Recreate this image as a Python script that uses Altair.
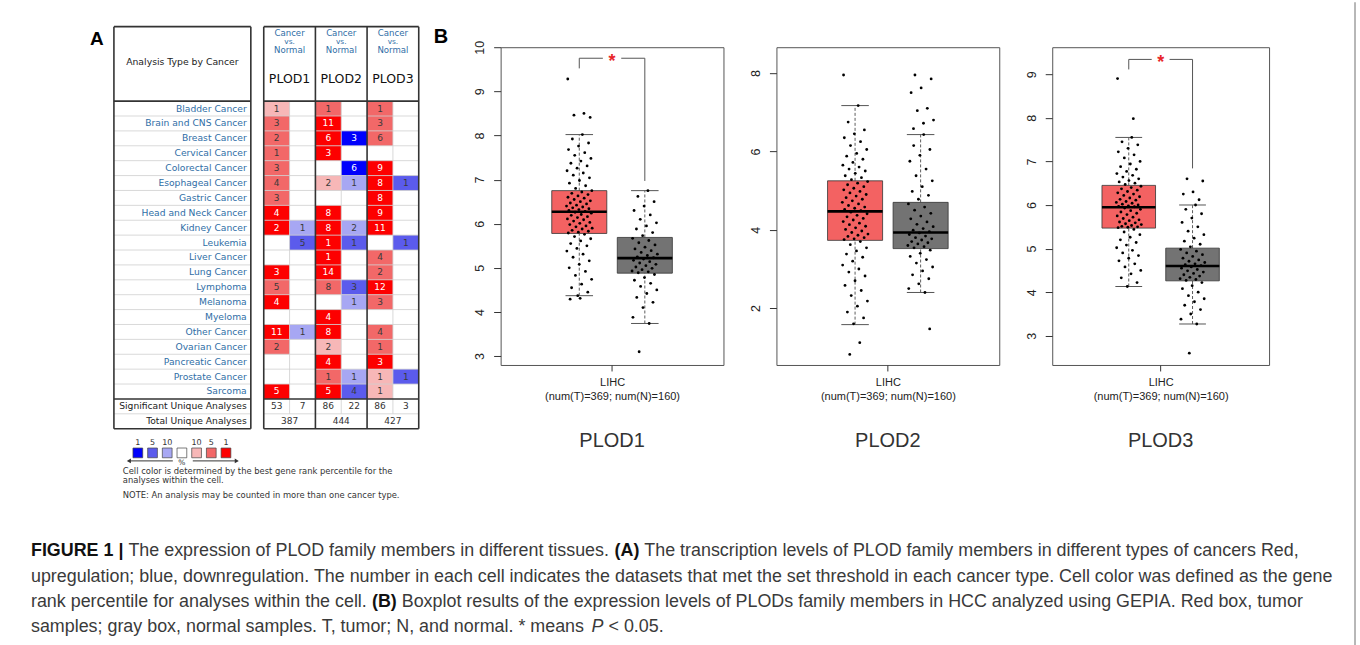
import altair as alt
import pandas as pd

# ---------------- Panel A data (Oncomine summary) ----------------
CANCERS = ["Bladder Cancer", "Brain and CNS Cancer", "Breast Cancer", "Cervical Cancer",
           "Colorectal Cancer", "Esophageal Cancer", "Gastric Cancer", "Head and Neck Cancer",
           "Kidney Cancer", "Leukemia", "Liver Cancer", "Lung Cancer", "Lymphoma", "Melanoma",
           "Myeloma", "Other Cancer", "Ovarian Cancer", "Pancreatic Cancer", "Prostate Cancer",
           "Sarcoma"]
GENES = ["PLOD1", "PLOD2", "PLOD3"]
# number of analyses (0 = empty cell)
PLOD1_UP = [1, 3, 2, 1, 3, 4, 3, 4, 2, 0, 0, 3, 5, 4, 0, 11, 2, 0, 0, 5]
PLOD1_DOWN = [0, 0, 0, 0, 0, 0, 0, 0, 1, 5, 0, 0, 0, 0, 0, 1, 0, 0, 0, 0]
PLOD2_UP = [1, 11, 6, 3, 0, 2, 0, 8, 8, 1, 1, 14, 8, 0, 4, 8, 2, 4, 1, 5]
PLOD2_DOWN = [0, 0, 3, 0, 6, 1, 0, 0, 2, 1, 0, 0, 3, 1, 0, 0, 0, 0, 1, 4]
PLOD3_UP = [1, 3, 6, 0, 9, 8, 8, 9, 11, 0, 4, 2, 12, 3, 0, 4, 1, 3, 1, 1]
PLOD3_DOWN = [0, 0, 0, 0, 0, 1, 0, 0, 0, 1, 0, 0, 0, 0, 0, 0, 0, 0, 1, 0]
# best gene rank percentile class: 1 = 10%, 2 = 5%, 3 = 1%
PLOD1_UP_RANK = [1, 2, 2, 2, 2, 2, 2, 3, 3, 0, 0, 3, 2, 3, 0, 3, 2, 0, 0, 3]
PLOD1_DOWN_RANK = [0, 0, 0, 0, 0, 0, 0, 0, 1, 2, 0, 0, 0, 0, 0, 1, 0, 0, 0, 0]
PLOD2_UP_RANK = [2, 3, 3, 3, 0, 1, 0, 3, 3, 3, 3, 3, 2, 0, 3, 3, 1, 3, 2, 3]
PLOD2_DOWN_RANK = [0, 0, 3, 0, 3, 1, 0, 0, 1, 2, 0, 0, 2, 1, 0, 0, 0, 0, 1, 2]
PLOD3_UP_RANK = [2, 2, 2, 0, 3, 3, 3, 3, 3, 0, 2, 2, 3, 2, 0, 2, 2, 3, 1, 1]
PLOD3_DOWN_RANK = [0, 0, 0, 0, 0, 2, 0, 0, 0, 2, 0, 0, 0, 0, 0, 0, 0, 0, 2, 0]
SIG_UP = [53, 86, 86]
SIG_DOWN = [7, 22, 3]
TOTAL = [387, 444, 427]
LEGEND_LABELS = ["1", "5", "10", "", "10", "5", "1"]
LEGEND_KEYS = ["down3", "down2", "down1", "none", "up1", "up2", "up3"]

# ---------------- Panel B data (GEPIA, LIHC) ----------------
# box stats: lower whisker, Q1, median, Q3, upper whisker
PLOD1_T_BOX = [4.37, 5.78, 6.27, 6.75, 8.02]
PLOD1_N_BOX = [3.74, 4.88, 5.22, 5.69, 6.75]
PLOD2_T_BOX = [1.58, 3.73, 4.47, 5.25, 7.17]
PLOD2_N_BOX = [2.40, 3.52, 3.93, 4.70, 6.43]
PLOD3_T_BOX = [4.13, 5.47, 5.95, 6.45, 7.55]
PLOD3_N_BOX = [3.27, 4.26, 4.60, 5.01, 6.00]

PLOD1_T_PTS = [8.02, 7.92, 7.83, 7.76, 7.68, 7.61, 7.55, 7.48, 7.42, 7.37, 7.31, 7.26, 7.2, 7.15, 7.1,
               7.04, 6.98, 6.92, 6.86, 6.8, 6.75, 6.72, 6.69, 6.66, 6.63, 6.6, 6.58, 6.55, 6.52, 6.5,
               6.47, 6.45, 6.42, 6.4, 6.38, 6.36, 6.34, 6.32, 6.3, 6.28, 6.26, 6.24, 6.21, 6.19, 6.16,
               6.14, 6.11, 6.09, 6.06, 6.03, 6.01, 5.98, 5.95, 5.93, 5.9, 5.88, 5.85, 5.83, 5.81, 5.79,
               5.76, 5.71, 5.66, 5.61, 5.55, 5.5, 5.44, 5.38, 5.31, 5.24, 5.16, 5.08, 5.0, 4.92, 4.83,
               4.74, 4.63, 4.55, 4.45, 4.37, 9.28, 8.5, 8.46, 8.41, 4.31, 4.29]
PLOD1_N_PTS = [6.75, 6.62, 6.5, 6.4, 6.3, 6.2, 6.1, 6.02, 5.95, 5.88, 5.8, 5.73, 5.67, 5.62, 5.57,
               5.52, 5.47, 5.43, 5.39, 5.35, 5.31, 5.28, 5.25, 5.23, 5.2, 5.17, 5.14, 5.11, 5.08, 5.05,
               5.02, 4.99, 4.96, 4.93, 4.91, 4.89, 4.85, 4.78, 4.72, 4.65, 4.58, 4.5, 4.42, 4.33, 4.22,
               4.1, 3.88, 3.74, 3.1]
PLOD2_T_PTS = [7.17, 6.75, 6.55, 6.45, 6.35, 6.25, 6.15, 6.05, 5.95, 5.88, 5.8, 5.72, 5.65, 5.6, 5.55,
               5.5, 5.44, 5.38, 5.33, 5.28, 5.23, 5.19, 5.15, 5.1, 5.06, 5.02, 4.98, 4.94, 4.9, 4.86,
               4.82, 4.78, 4.74, 4.7, 4.66, 4.62, 4.58, 4.55, 4.52, 4.49, 4.45, 4.41, 4.37, 4.33, 4.29,
               4.25, 4.21, 4.17, 4.13, 4.09, 4.05, 4.01, 3.97, 3.93, 3.89, 3.86, 3.83, 3.8, 3.77, 3.75,
               3.7, 3.62, 3.54, 3.46, 3.38, 3.3, 3.2, 3.1, 3.0, 2.92, 2.82, 2.7, 2.58, 2.45, 2.32,
               2.18, 2.05, 1.9, 1.75, 1.6, 7.95, 1.12, 0.82]
PLOD2_N_PTS = [6.43, 6.15, 6.05, 5.9, 5.75, 5.55, 5.38, 5.25, 5.1, 4.98, 4.88, 4.78, 4.66, 4.58, 4.5,
               4.42, 4.35, 4.28, 4.2, 4.14, 4.08, 4.03, 3.99, 3.95, 3.92, 3.88, 3.84, 3.8, 3.77, 3.74,
               3.7, 3.67, 3.64, 3.6, 3.57, 3.54, 3.48, 3.4, 3.32, 3.24, 3.15, 3.05, 2.95, 2.85, 2.75,
               2.62, 2.5, 2.4, 7.95, 7.85, 7.62, 7.5, 7.1, 7.04, 6.8, 6.72, 6.58, 1.47]
PLOD3_T_PTS = [7.55, 7.45, 7.38, 7.3, 7.22, 7.15, 7.08, 7.0, 6.94, 6.88, 6.82, 6.77, 6.72, 6.68, 6.64,
               6.6, 6.56, 6.53, 6.5, 6.47, 6.43, 6.4, 6.37, 6.34, 6.31, 6.28, 6.25, 6.22, 6.19, 6.16,
               6.13, 6.11, 6.08, 6.06, 6.04, 6.02, 6.0, 5.98, 5.97, 5.96, 5.93, 5.9, 5.87, 5.84, 5.81,
               5.78, 5.75, 5.72, 5.69, 5.66, 5.64, 5.61, 5.59, 5.57, 5.55, 5.53, 5.51, 5.5, 5.49, 5.48,
               5.44, 5.38, 5.32, 5.26, 5.2, 5.14, 5.08, 5.02, 4.96, 4.9, 4.84, 4.78, 4.72, 4.65, 4.58,
               4.5, 4.42, 4.33, 4.22, 4.13, 8.9, 7.98]
PLOD3_N_PTS = [6.0, 5.9, 5.8, 5.7, 5.6, 5.5, 5.4, 5.32, 5.24, 5.17, 5.1, 5.04, 4.98, 4.94, 4.9,
               4.86, 4.82, 4.78, 4.74, 4.71, 4.68, 4.65, 4.63, 4.61, 4.58, 4.55, 4.52, 4.49, 4.46, 4.43,
               4.4, 4.37, 4.34, 4.31, 4.29, 4.27, 4.22, 4.15, 4.08, 4.0, 3.92, 3.85, 3.78, 3.7, 3.6,
               3.5, 3.38, 3.27, 6.6, 6.55, 6.3, 6.25, 6.12, 2.6]
# significance bracket: top, left end, right end
PLOD1_SIG = [9.75, 9.52, 6.97]
PLOD3_SIG = [9.34, 9.11, 6.84]
SAMPLE_LABEL = "(num(T)=369; num(N)=160)"

CAPTION = [
    [("FIGURE 1 |", "bold", "normal"),
     ("The expression of PLOD family members in different tissues.", "normal", "normal"),
     ("(A)", "bold", "normal"),
     ("The transcription levels of PLOD family members in different types of cancers Red,", "normal", "normal")],
    [("upregulation; blue, downregulation. The number in each cell indicates the datasets that met the set threshold in each cancer type. Cell color was defined as the gene", "normal", "normal")],
    [("rank percentile for analyses within the cell.", "normal", "normal"),
     ("(B)", "bold", "normal"),
     ("Boxplot results of the expression levels of PLODs family members in HCC analyzed using GEPIA. Red box, tumor", "normal", "normal")],
    [("samples; gray box, normal samples. T, tumor; N, and normal. * means", "normal", "normal"),
     ("P", "normal", "italic"),
     ("< 0.05.", "normal", "normal")],
]

# ---------------- styles / layout ----------------
SHADE = {"up1": "#f7b7b7", "up2": "#f26868", "up3": "#fd0000",
         "down1": "#a7a7f3", "down2": "#5b5bec", "down3": "#0000fc", "none": "#ffffff"}
TUMOR_FILL = "#f36262"
NORMAL_FILL = "#737373"
LINK = "#2f6ea6"
FA = "DejaVu Sans"
FB = "Liberation Sans"

ORIGIN_X, ORIGIN_Y = 75, 45     # page position of panel A's plot area
UX, UY = 25.85, 14.9           # px per table column / row
AX0, AX1 = -7.27, 7.12
AY0, AY1 = -3.62, 26.98
A_W = round((AX1 - AX0) * UX)
A_H = round((AY1 - AY0) * UY)


def ux(px):
    return (px - 263) / UX


def uy(py):
    return (py - 99) / UY


xsA = alt.Scale(domain=[AX0, AX1], nice=False, zero=False)
ysA = alt.Scale(domain=[AY0, AY1], nice=False, zero=False, reverse=True)


def AXq(f):
    return alt.X(f, type="quantitative", scale=xsA, axis=None)


def AYq(f):
    return alt.Y(f, type="quantitative", scale=ysA, axis=None)


# ---------------- Panel A ----------------
UPS = [PLOD1_UP, PLOD2_UP, PLOD3_UP]
DOWNS = [PLOD1_DOWN, PLOD2_DOWN, PLOD3_DOWN]
UPR = [PLOD1_UP_RANK, PLOD2_UP_RANK, PLOD3_UP_RANK]
DOWNR = [PLOD1_DOWN_RANK, PLOD2_DOWN_RANK, PLOD3_DOWN_RANK]

cell_rows = []
for gi in range(len(GENES)):
    for di, (cnt, rk, d) in enumerate([(UPS[gi], UPR[gi], "up"), (DOWNS[gi], DOWNR[gi], "down")]):
        for ri, (n, r) in enumerate(zip(cnt, rk)):
            if n:
                col = gi * 2 + di
                cell_rows.append(dict(x0=col, x1=col + 1, y0=ri, y1=ri + 1, xc=col + 0.5, yc=ri + 0.5,
                                      n=str(n), fc=SHADE[f"{d}{r}"],
                                      tc="#ffffff" if r == 3 else "#3a3a3a"))
cells = pd.DataFrame(cell_rows)

LX0, LX1 = -5.8, -0.5
NR = len(CANCERS)
THIN, THICK = "#cfcfcf", "#333333"
line_rows = []


def seg(x0, x1, y0, y1, c, w):
    line_rows.append(dict(x=x0, x2=x1, y=y0, y2=y1, c=c, w=w))


for r in list(range(1, NR)) + [NR + 1]:
    seg(LX0, LX1, r, r, THIN, 0.8)
    seg(0, 6, r, r, THIN, 0.8)
for cx in [1, 3, 5]:
    seg(cx, cx, 0, NR + 1, THIN, 0.8)
for yy in [-5, 0, NR, NR + 2]:
    seg(LX0, LX1, yy, yy, THICK, 1.6)
    seg(0, 6, yy, yy, THICK, 1.6)
for xx in [LX0, LX1]:
    seg(xx, xx, -5, NR + 2, THICK, 1.6)
for xx in [0, 2, 4, 6]:
    seg(xx, xx, -5, NR + 2, THICK, 1.6)
lines = pd.DataFrame(line_rows)

cells_layer = alt.Chart(cells).mark_rect().encode(
    x=AXq("x0"), x2="x1", y=AYq("y0"), y2="y1", fill=alt.Fill("fc:N", scale=None))
cells_text = alt.Chart(cells).mark_text(font=FA, fontSize=9, baseline="middle").encode(
    x=AXq("xc"), y=AYq("yc"), text="n:N", color=alt.Color("tc:N", scale=None))
lines_layer = alt.Chart(lines).mark_rule().encode(
    x=AXq("x"), x2="x2", y=AYq("y"), y2="y2",
    color=alt.Color("c:N", scale=None), strokeWidth=alt.StrokeWidth("w:Q", scale=None))

lab_df = pd.DataFrame({"t": CANCERS, "x": [-0.66] * NR, "y": [i + 0.5 for i in range(NR)]})
row_labels = alt.Chart(lab_df).mark_text(font=FA, fontSize=9.2, align="right", baseline="middle",
                                         color=LINK).encode(x=AXq("x"), y=AYq("y"), text="t:N")
sum_lab = pd.DataFrame({"t": ["Significant Unique Analyses", "Total Unique Analyses"],
                        "x": [-0.66, -0.66], "y": [NR + 0.5, NR + 1.5]})
sum_labels = alt.Chart(sum_lab).mark_text(font=FA, fontSize=9.2, align="right", baseline="middle",
                                          color="#222").encode(x=AXq("x"), y=AYq("y"), text="t:N")

ctr_rows = [dict(t="Analysis Type by Cancer", x=(LX0 + LX1) / 2, y=uy(60), s=9.3, c="#222")]
for gi, g in enumerate(GENES):
    gx = gi * 2 + 1
    for t, py, fs in [("Cancer", 31, 8.6), ("vs.", 39.5, 7.4), ("Normal", 48, 8.6)]:
        ctr_rows.append(dict(t=t, x=gx, y=uy(py), s=fs, c=LINK))
    ctr_rows.append(dict(t=g, x=gx, y=uy(77), s=12.5, c="#111"))
    ctr_rows.append(dict(t=str(SIG_UP[gi]), x=gx - 0.5, y=NR + 0.5, s=9, c="#333"))
    ctr_rows.append(dict(t=str(SIG_DOWN[gi]), x=gx + 0.5, y=NR + 0.5, s=9, c="#333"))
    ctr_rows.append(dict(t=str(TOTAL[gi]), x=gx, y=NR + 1.5, s=9, c="#333"))
LEG_X0, LEG_DX = ux(137), 14.7 / UX
for i, lab in enumerate(LEGEND_LABELS):
    if lab:
        ctr_rows.append(dict(t=lab, x=LEG_X0 + i * LEG_DX, y=uy(441), s=8, c="#333"))
ctr_rows.append(dict(t="%", x=LEG_X0 + 3 * LEG_DX, y=uy(461), s=7.5, c="#333"))
ctr_df = pd.DataFrame(ctr_rows)
ctr_text = alt.Chart(ctr_df).mark_text(font=FA, baseline="middle").encode(
    x=AXq("x"), y=AYq("y"), text="t:N", size=alt.Size("s:Q", scale=None),
    color=alt.Color("c:N", scale=None))

leg_sq = pd.DataFrame({"x": [LEG_X0 + i * LEG_DX for i in range(len(LEGEND_KEYS))],
                       "y": [uy(451)] * len(LEGEND_KEYS),
                       "fc": [SHADE[k] for k in LEGEND_KEYS]})
leg_squares = alt.Chart(leg_sq).mark_point(shape="square", size=95, filled=True, stroke="#444",
                                           strokeWidth=0.7, opacity=1).encode(
    x=AXq("x"), y=AYq("y"), fill=alt.Fill("fc:N", scale=None))
arr = pd.DataFrame({"x": [ux(172), ux(192)], "x2": [ux(128), ux(236)], "y": [uy(459)] * 2})
arrows = alt.Chart(arr).mark_rule(color="#333", strokeWidth=1).encode(x=AXq("x"), x2="x2", y=AYq("y"))
heads = pd.DataFrame({"x": [ux(128), ux(236)], "y": [uy(459)] * 2, "sh": ["triangle-left", "triangle-right"]})
arrow_heads = alt.Chart(heads).mark_point(filled=True, color="#333", size=22, opacity=1).encode(
    x=AXq("x"), y=AYq("y"), shape=alt.Shape("sh:N", scale=None))
note_df = pd.DataFrame({"t": ["Cell color is determined by the best gene rank percentile for the",
                              "analyses within the cell.",
                              "NOTE: An analysis may be counted in more than one cancer type."],
                        "x": [ux(122)] * 3, "y": [uy(469.5), uy(478), uy(493)]})
notes = alt.Chart(note_df).mark_text(font=FA, fontSize=8.4, align="left", baseline="middle",
                                     color="#333").encode(x=AXq("x"), y=AYq("y"), text="t:N")
letterA = alt.Chart(pd.DataFrame({"t": ["A"], "x": [ux(96)], "y": [uy(37)]})).mark_text(
    font=FB, fontSize=19, fontWeight="bold", baseline="middle", color="#000").encode(
    x=AXq("x"), y=AYq("y"), text="t:N")

# ---------------- Caption (flowed with Arial/Liberation Sans advance widths) ----------------
REG_W = {" ": 278, "!": 278, "(": 333, ")": 333, "*": 389, ",": 278, "-": 333, ".": 278, ";": 278,
         ":": 278, "<": 584, "=": 584, "|": 260, "A": 667, "B": 667, "C": 722, "D": 722, "E": 667,
         "F": 611, "G": 778, "H": 722, "I": 278, "L": 556, "N": 722, "O": 778, "P": 667, "R": 722,
         "S": 667, "T": 611, "a": 556, "b": 556, "c": 500, "d": 556, "e": 556, "f": 278, "g": 556,
         "h": 556, "i": 222, "j": 222, "k": 500, "l": 222, "m": 833, "n": 556, "o": 556, "p": 556,
         "q": 556, "r": 333, "s": 500, "t": 278, "u": 556, "v": 500, "w": 722, "x": 500, "y": 500,
         "z": 500}
BOLD_W = {" ": 278, "(": 333, ")": 333, "|": 280, "A": 722, "B": 722, "E": 667, "F": 611, "G": 778,
          "I": 278, "R": 722, "U": 722}
CAP_SIZE = 17.9
CAP_X0 = 30
CAP_Y = [549, 575, 600, 625]


def text_w(s, bold):
    tbl = BOLD_W if bold else REG_W
    return sum(tbl.get(c, REG_W.get(c, 556)) for c in s) * CAP_SIZE / 1000


cap_layers = []
for li, line in enumerate(CAPTION):
    cx = CAP_X0
    for txt, wt, st in line:
        cap_layers.append(alt.Chart(pd.DataFrame({"t": [txt]})).mark_text(
            font=FB, fontSize=CAP_SIZE, fontWeight=wt, fontStyle=st, align="left", baseline="middle",
            color="#111" if wt == "bold" else "#3a3a3a").encode(
            text="t:N", x=alt.value(cx - ORIGIN_X), y=alt.value(CAP_Y[li] - ORIGIN_Y)))
        cx += text_w(txt, wt == "bold") + 278 * CAP_SIZE / 1000
# right-hand frame line of the figure
cap_layers.append(alt.Chart(pd.DataFrame({"a": [0]})).mark_rule(color="#888", strokeWidth=1.2).encode(
    x=alt.value(1355 - ORIGIN_X), y=alt.value(0 - ORIGIN_Y), y2=alt.value(645 - ORIGIN_Y)))

panelA = alt.layer(cells_layer, lines_layer, cells_text, row_labels, sum_labels, ctr_text,
                   leg_squares, arrows, arrow_heads, notes, letterA, *cap_layers).properties(
    width=A_W, height=A_H)

# ---------------- Panel B ----------------
B_H = 318
XDOM = [-0.2, 3.2]


def box_panel(gene, tbox, nbox, tpts, npts, ydom, yticks, width, sig=None, letter=None):
    xs = alt.Scale(domain=XDOM, nice=False, zero=False)
    ys = alt.Scale(domain=ydom, nice=False, zero=False)
    xaxis = alt.Axis(values=[1.5], labelExpr="'LIHC'", title=SAMPLE_LABEL, grid=False, domain=False,
                     tickSize=6, tickColor="#333", labelPadding=6, titlePadding=3,
                     titleFontWeight="normal", titleFontSize=11, labelFontSize=11,
                     titleFont=FB, labelFont=FB, labelColor="#222", titleColor="#222")
    yaxis = alt.Axis(values=yticks, labelAngle=270, grid=False, domain=False, tickSize=7,
                     tickColor="#333", labelFontSize=12.5, labelFont=FB, labelColor="#222",
                     labelPadding=7, title=None)

    def X(f):
        return alt.X(f, type="quantitative", scale=xs, axis=xaxis)

    def Y(f):
        return alt.Y(f, type="quantitative", scale=ys, axis=yaxis)

    stats = pd.DataFrame({"pos": [1, 2],
                          "lo": [tbox[0], nbox[0]], "q1": [tbox[1], nbox[1]],
                          "med": [tbox[2], nbox[2]], "q3": [tbox[3], nbox[3]],
                          "hi": [tbox[4], nbox[4]], "fc": [TUMOR_FILL, NORMAL_FILL]})
    base = alt.Chart(stats).transform_calculate(
        bl="datum.pos - 0.42", br="datum.pos + 0.42", cl="datum.pos - 0.21", cr="datum.pos + 0.21")
    w_up = base.mark_rule(strokeDash=[3, 2], color="#333", strokeWidth=0.8).encode(
        x=X("pos"), y=Y("q3"), y2="hi")
    w_lo = base.mark_rule(strokeDash=[3, 2], color="#333", strokeWidth=0.8).encode(
        x=X("pos"), y=Y("lo"), y2="q1")
    c_hi = base.mark_rule(color="#555", strokeWidth=1).encode(x=X("cl"), x2="cr", y=Y("hi"))
    c_lo = base.mark_rule(color="#555", strokeWidth=1).encode(x=X("cl"), x2="cr", y=Y("lo"))
    box = base.mark_rect(stroke="#333", strokeWidth=0.8).encode(
        x=X("bl"), x2="br", y=Y("q1"), y2="q3", fill=alt.Fill("fc:N", scale=None))
    pts_df = pd.DataFrame({"pos": [1] * len(tpts) + [2] * len(npts), "v": tpts + npts})
    pts = alt.Chart(pts_df).transform_window(
        idx="row_number()", groupby=["pos"]
    ).transform_calculate(
        jx="datum.pos + ((datum.idx * 0.618034) % 1 - 0.5) * 0.4"
    ).mark_circle(size=8, color="#000", opacity=1).encode(x=X("jx"), y=Y("v"))
    med = base.mark_rule(strokeWidth=2.6, color="#000").encode(x=X("bl"), x2="br", y=Y("med"))
    layers = [w_up, w_lo, c_hi, c_lo, box, pts, med]
    if sig:
        top, le, re = sig
        br_df = pd.DataFrame({"x": [1, 2, 1, 1.64], "x2": [1, 2, 1.36, 2],
                              "y": [top, top, top, top], "y2": [le, re, top, top]})
        layers.append(alt.Chart(br_df).mark_rule(color="#555", strokeWidth=1).encode(
            x=X("x"), x2="x2", y=Y("y"), y2="y2"))
        layers.append(alt.Chart(pd.DataFrame({"x": [1.5], "y": [top], "t": ["*"]})).mark_text(
            font=FB, fontSize=18, fontWeight="bold", color="#e8262a", baseline="middle", dy=4).encode(
            x=X("x"), y=Y("y"), text="t:N"))
    if letter:
        layers.append(alt.Chart(pd.DataFrame({"t": [letter]})).mark_text(
            font=FB, fontSize=20, fontWeight="bold", color="#000", align="left", baseline="middle").encode(
            text="t:N", x=alt.value(-67), y=alt.value(-10)))
    return alt.layer(*layers).properties(
        width=width, height=B_H,
        view=alt.ViewBackground(stroke="#555", strokeWidth=1),
        title=alt.TitleParams(gene, orient="bottom", fontSize=20, fontWeight="normal", font=FB,
                              color="#333", offset=29))


p1 = box_panel("PLOD1", PLOD1_T_BOX, PLOD1_N_BOX, PLOD1_T_PTS, PLOD1_N_PTS, [2.8, 10.0],
               [3, 4, 5, 6, 7, 8, 9, 10], 223, sig=PLOD1_SIG, letter="B")
p2 = box_panel("PLOD2", PLOD2_T_BOX, PLOD2_N_BOX, PLOD2_T_PTS, PLOD2_N_PTS, [0.55, 8.66],
               [2, 4, 6, 8], 223)
p3 = box_panel("PLOD3", PLOD3_T_BOX, PLOD3_N_BOX, PLOD3_T_PTS, PLOD3_N_PTS, [2.33, 9.62],
               [3, 4, 5, 6, 7, 8, 9], 217, sig=PLOD3_SIG)

chart = alt.hconcat(panelA, p1, p2, p3, spacing=53, bounds="flush").properties(
    padding={"left": CAP_X0, "top": 0, "right": 3, "bottom": 0}, background="white"
).configure_view(stroke="transparent")

chart.save("out.html", embed_options={"renderer": "svg", "actions": False})
